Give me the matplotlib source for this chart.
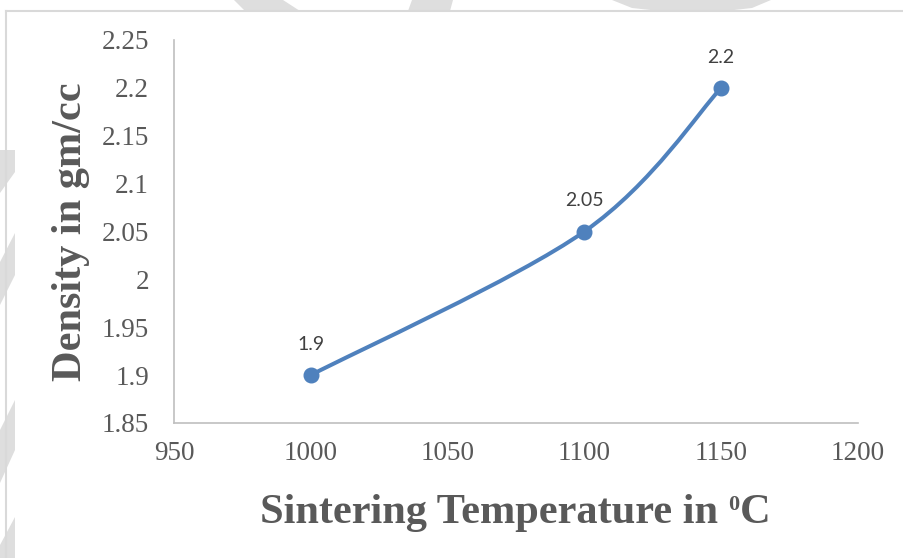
# Density vs sintering temperature, Excel-style smoothed line with data labels

import numpy as np
import matplotlib
matplotlib.use("Agg")
import matplotlib.pyplot as plt
from matplotlib.path import Path
from matplotlib.patches import PathPatch, Polygon

temperature = [1000, 1100, 1150]
density = [1.9, 2.05, 2.2]
point_labels = ["1.9", "2.05", "2.2"]

x_ticks = [950, 1000, 1050, 1100, 1150, 1200]
y_ticks = [1.85, 1.9, 1.95, 2.0, 2.05, 2.1, 2.15, 2.2, 2.25]
y_tick_labels = ["1.85", "1.9", "1.95", "2", "2.05", "2.1", "2.15", "2.2", "2.25"]

blue = "#4F81BD"
grey_txt = "#595959"
W, H = 904, 558


def px(x, y):
    # figure pixel (top-left origin) -> figure fraction
    return (x / W, 1 - y / H)


fig = plt.figure(figsize=(W / 100, H / 100), dpi=100)
fig.patch.set_facecolor("white")

# watermark bands behind the chart (from the source document)
wm = "#dedede"
bands = [
    [(234, 0), (283, 0), (300, 11), (245, 11)],
    [(412, 0), (453, 0), (450, 11), (408, 11)],
    [(612, 0), (771, 0), (752, 8), (725, 11), (660, 11), (632, 8)],
    [(0, 150), (15, 150), (15, 172), (0, 193)],
    [(0, 262), (15, 233), (15, 275), (0, 305)],
    [(0, 430), (15, 400), (15, 450), (0, 483)],
    [(0, 545), (15, 517), (15, 558), (0, 558)],
]
for b in bands:
    fig.patches.append(Polygon([px(*p) for p in b], closed=True, facecolor=wm,
                               edgecolor="none", transform=fig.transFigure, zorder=0))
# frame of the chart area
fig.add_artist(plt.Line2D([6 / W, 1], [1 - 11 / H, 1 - 11 / H], color="#d9d9d9", lw=1.5,
                          transform=fig.transFigure))
fig.add_artist(plt.Line2D([6 / W, 6 / W], [0, 1 - 11 / H], color="#d9d9d9", lw=1.5,
                          transform=fig.transFigure))

ax = fig.add_axes([174 / W, 1 - 423 / H, (858 - 174) / W, (423 - 40) / H])
ax.patch.set_alpha(0)

# smoothed line, Excel-like bezier through the points
pts = np.column_stack([temperature, density]).astype(float)
n = len(pts)
verts = [pts[0]]
codes = [Path.MOVETO]
for i in range(n - 1):
    p_prev = pts[max(i - 1, 0)]
    p0 = pts[i]
    p1 = pts[i + 1]
    p_next = pts[min(i + 2, n - 1)]
    c1 = p0 + (p1 - p_prev) / 6.0
    c2 = p1 - (p_next - p0) / 6.0
    verts += [c1, c2, p1]
    codes += [Path.CURVE4] * 3
ax.add_patch(PathPatch(Path(verts, codes), facecolor="none", edgecolor=blue,
                       lw=2.9, capstyle="round", zorder=2))
ax.plot(temperature, density, linestyle="none", marker="o", markersize=10.5,
        color=blue, zorder=3)

for xv, yv, lab in zip(temperature, density, point_labels):
    ax.annotate(lab, (xv, yv), xytext=(0, 22), textcoords="offset points",
                ha="center", va="center", fontsize=14, family="Lato", color="#404040")

ax.set_xlim(950, 1200)
ax.set_ylim(1.85, 2.25)
ax.set_xticks(x_ticks)
ax.set_xticklabels([str(t) for t in x_ticks])
ax.set_yticks(y_ticks)
ax.set_yticklabels(y_tick_labels)
ax.tick_params(axis="both", length=0, labelsize=19.5, labelcolor=grey_txt)
ax.tick_params(axis="x", pad=13)
ax.tick_params(axis="y", pad=18)
for lab in ax.get_xticklabels() + ax.get_yticklabels():
    lab.set_family("Liberation Serif")

for s in ["top", "right"]:
    ax.spines[s].set_visible(False)
for s in ["left", "bottom"]:
    ax.spines[s].set_color("#bfbfbf")
    ax.spines[s].set_linewidth(1.2)

# x title in three pieces so the degree-like superscript 0 stays small
title_font = dict(fontweight="bold", family="Liberation Serif", color=grey_txt)
renderer = fig.canvas.get_renderer()
t_main = fig.text(0, 0, "Sintering Temperature in ", fontsize=30.5, va="baseline", **title_font)
t_sup = fig.text(0, 0, "0", fontsize=16, va="baseline", **title_font)
t_c = fig.text(0, 0, "C", fontsize=30.5, va="baseline", **title_font)
widths = [t.get_window_extent(renderer).width for t in (t_main, t_sup, t_c)]
x0 = 515 - sum(widths) / 2
base = 523
t_main.set_position(px(x0, base))
t_sup.set_position(px(x0 + widths[0], base - 13))
t_c.set_position(px(x0 + widths[0] + widths[1], base))

fig.text(*px(81, 232), "Density in gm/cc", rotation=90, rotation_mode="anchor",
         ha="center", va="baseline", fontsize=30.5, **title_font)

fig.savefig("out.png", dpi=100)
